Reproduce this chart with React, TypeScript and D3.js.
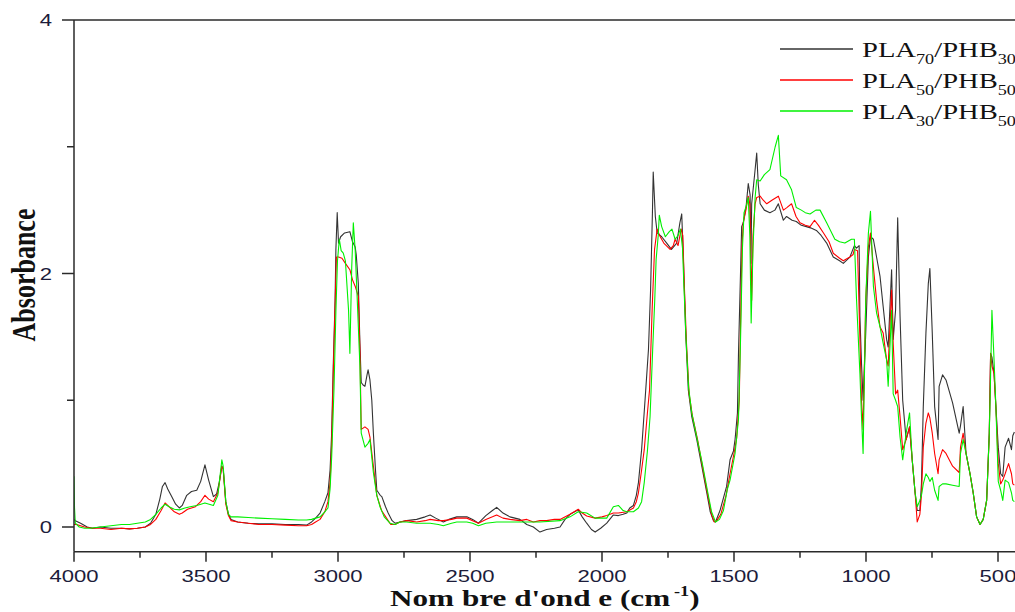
import React from "react";
import * as d3 from "d3";

// [wavenumber (cm-1), absorbance]
const seriesBlack: [number, number][] = [
  [4000, 0.06], [3995, 0.05], [3975, 0.03], [3950, 0.0], [3930, -0.01], [3900, 0.0], [3860, -0.01], [3820, -0.01],
  [3790, -0.015], [3760, -0.01], [3730, 0.0], [3710, 0.03], [3690, 0.1], [3675, 0.22], [3665, 0.32], [3655, 0.35],
  [3645, 0.3], [3630, 0.24], [3615, 0.18], [3601, 0.15], [3590, 0.17], [3573, 0.25], [3555, 0.28], [3535, 0.29],
  [3520, 0.36], [3504, 0.49], [3490, 0.37], [3472, 0.24], [3460, 0.26], [3450, 0.35], [3440, 0.48], [3435, 0.46],
  [3425, 0.2], [3415, 0.1], [3405, 0.06], [3380, 0.04], [3340, 0.03], [3300, 0.025], [3250, 0.025], [3200, 0.02],
  [3150, 0.02], [3119, 0.015], [3100, 0.04], [3085, 0.07], [3068, 0.11], [3050, 0.2], [3038, 0.27], [3030, 0.45],
  [3024, 0.74], [3018, 1.27], [3011, 1.79], [3008, 2.19], [3003, 2.48], [2998, 2.24], [2990, 2.29], [2975, 2.32],
  [2955, 2.33], [2945, 2.25], [2935, 2.21], [2931, 2.15], [2923, 1.92], [2917, 1.45], [2912, 1.14], [2905, 1.12],
  [2898, 1.11], [2890, 1.2], [2886, 1.24], [2879, 1.16], [2872, 1.0], [2866, 0.74], [2858, 0.45], [2853, 0.29],
  [2840, 0.25], [2834, 0.24], [2820, 0.16], [2810, 0.11], [2795, 0.05], [2784, 0.03], [2765, 0.04], [2740, 0.05],
  [2702, 0.06], [2670, 0.08], [2651, 0.095], [2630, 0.07], [2601, 0.04], [2580, 0.06], [2550, 0.08], [2512, 0.08],
  [2490, 0.06], [2468, 0.03], [2440, 0.09], [2415, 0.13], [2399, 0.155], [2375, 0.11], [2349, 0.08], [2311, 0.06],
  [2285, 0.02], [2260, 0.0], [2235, -0.04], [2210, -0.02], [2180, -0.01], [2159, 0.0], [2140, 0.06], [2121, 0.1],
  [2090, 0.135], [2075, 0.08], [2058, 0.03], [2040, -0.02], [2026, -0.04], [2005, -0.01], [1982, 0.03], [1957, 0.095],
  [1938, 0.09], [1920, 0.1], [1906, 0.11], [1895, 0.15], [1881, 0.17], [1870, 0.25], [1862, 0.35], [1850, 0.61],
  [1837, 1.0], [1824, 1.4], [1816, 1.87], [1809, 2.48], [1806, 2.8], [1798, 2.45], [1791, 2.32], [1774, 2.29],
  [1755, 2.24], [1737, 2.19], [1717, 2.24], [1705, 2.4], [1698, 2.47], [1692, 2.13], [1683, 1.53], [1673, 1.08],
  [1660, 0.87], [1641, 0.69], [1622, 0.48], [1603, 0.27], [1590, 0.12], [1578, 0.05], [1570, 0.04], [1553, 0.13],
  [1528, 0.32], [1515, 0.53], [1502, 0.6], [1496, 0.69], [1487, 0.9], [1483, 1.37], [1475, 2.03], [1471, 2.37],
  [1465, 2.4], [1454, 2.53], [1446, 2.71], [1439, 2.62], [1436, 2.08], [1433, 2.55], [1420, 2.82], [1414, 2.95],
  [1408, 2.7], [1401, 2.55], [1385, 2.5], [1364, 2.48], [1345, 2.5], [1332, 2.55], [1313, 2.42], [1301, 2.45],
  [1280, 2.42], [1264, 2.41], [1245, 2.38], [1226, 2.37], [1210, 2.36], [1188, 2.34], [1170, 2.3], [1149, 2.24],
  [1124, 2.13], [1100, 2.1], [1086, 2.08], [1061, 2.13], [1044, 2.22], [1036, 2.2], [1026, 2.22], [1023, 1.66],
  [1017, 1.29], [1011, 1.0], [1001, 1.53], [991, 2.13], [983, 2.29], [972, 2.27], [960, 2.13], [947, 1.98],
  [935, 1.74], [922, 1.48], [916, 1.42], [903, 2.03], [897, 1.48], [888, 1.71], [880, 2.44], [871, 1.66],
  [861, 1.0], [848, 0.69], [835, 0.79], [825, 0.53], [814, 0.27], [806, 0.13], [796, 0.13], [790, 0.34],
  [783, 0.95], [773, 1.53], [764, 1.92], [758, 2.04], [749, 1.53], [740, 0.95], [727, 0.69], [723, 1.11],
  [710, 1.2], [697, 1.16], [672, 0.98], [647, 0.74], [642, 0.8], [632, 0.95], [621, 0.58], [606, 0.42],
  [594, 0.27], [581, 0.08], [568, 0.02], [556, 0.06], [543, 0.21], [533, 0.74], [528, 1.37], [523, 1.34],
  [515, 1.21], [508, 0.95], [499, 0.63], [490, 0.42], [482, 0.4], [473, 0.63], [460, 0.7], [449, 0.61],
  [444, 0.72], [438, 0.75],
];

const seriesRed: [number, number][] = [
  [4000, 0.02], [3990, 0.02], [3960, 0.0], [3930, -0.01], [3900, -0.01], [3860, -0.02], [3820, -0.01], [3790, -0.015],
  [3760, -0.01], [3730, 0.0], [3710, 0.02], [3690, 0.06], [3670, 0.13], [3655, 0.19], [3640, 0.16], [3620, 0.12],
  [3601, 0.1], [3590, 0.11], [3570, 0.14], [3540, 0.16], [3520, 0.2], [3504, 0.25], [3490, 0.22], [3472, 0.2],
  [3455, 0.27], [3440, 0.48], [3435, 0.46], [3425, 0.18], [3415, 0.09], [3405, 0.05], [3380, 0.04], [3340, 0.03],
  [3300, 0.02], [3250, 0.02], [3200, 0.015], [3150, 0.01], [3119, 0.01], [3100, 0.02], [3085, 0.04], [3068, 0.06],
  [3050, 0.12], [3038, 0.2], [3030, 0.35], [3024, 0.65], [3018, 1.2], [3011, 1.75], [3006, 2.13], [2998, 2.13],
  [2985, 2.12], [2972, 2.08], [2955, 2.03], [2945, 1.95], [2935, 1.9], [2923, 1.82], [2917, 1.4], [2912, 0.77],
  [2898, 0.79], [2886, 0.77], [2879, 0.71], [2866, 0.48], [2853, 0.25], [2835, 0.13], [2810, 0.05], [2800, 0.02],
  [2784, 0.02], [2765, 0.04], [2740, 0.05], [2702, 0.04], [2670, 0.05], [2651, 0.06], [2620, 0.05], [2601, 0.05],
  [2570, 0.06], [2550, 0.07], [2512, 0.07], [2490, 0.05], [2468, 0.03], [2440, 0.06], [2415, 0.08], [2399, 0.095],
  [2375, 0.07], [2349, 0.06], [2311, 0.05], [2285, 0.06], [2260, 0.04], [2235, 0.05], [2210, 0.05], [2180, 0.06],
  [2159, 0.06], [2121, 0.1], [2090, 0.14], [2075, 0.11], [2058, 0.087], [2026, 0.07], [2000, 0.08], [1982, 0.09],
  [1957, 0.11], [1938, 0.11], [1906, 0.12], [1881, 0.15], [1870, 0.2], [1862, 0.27], [1850, 0.45], [1840, 0.61],
  [1828, 0.9], [1820, 1.08], [1810, 1.72], [1801, 2.19], [1791, 2.35], [1782, 2.3], [1766, 2.24], [1742, 2.19],
  [1730, 2.22], [1723, 2.27], [1712, 2.22], [1700, 2.35], [1694, 2.3], [1688, 1.9], [1680, 1.45], [1670, 1.05],
  [1657, 0.87], [1638, 0.69], [1618, 0.46], [1600, 0.26], [1585, 0.1], [1575, 0.04], [1565, 0.05], [1550, 0.1],
  [1530, 0.25], [1515, 0.42], [1500, 0.58], [1490, 0.7], [1480, 1.0], [1475, 1.63], [1470, 2.2], [1465, 2.4],
  [1455, 2.5], [1446, 2.61], [1440, 2.55], [1433, 1.79], [1428, 2.3], [1420, 2.55], [1414, 2.6], [1401, 2.61],
  [1390, 2.58], [1376, 2.55], [1355, 2.58], [1332, 2.61], [1313, 2.5], [1300, 2.52], [1282, 2.55], [1265, 2.45],
  [1250, 2.4], [1230, 2.38], [1212, 2.37], [1195, 2.42], [1180, 2.38], [1161, 2.32], [1140, 2.25], [1124, 2.16],
  [1100, 2.12], [1086, 2.1], [1061, 2.13], [1049, 2.15], [1044, 2.19], [1032, 2.18], [1023, 1.48], [1017, 1.0],
  [1011, 0.77], [1001, 1.79], [991, 2.21], [983, 2.32], [972, 2.05], [960, 1.79], [947, 1.58], [935, 1.53],
  [922, 1.32], [916, 1.27], [903, 1.87], [897, 1.45], [888, 1.05], [880, 1.08], [871, 0.87], [861, 0.61],
  [848, 0.69], [835, 0.79], [825, 0.53], [814, 0.27], [806, 0.04], [796, 0.1], [790, 0.25], [783, 0.63],
  [773, 0.82], [764, 0.9], [758, 0.86], [749, 0.74], [740, 0.58], [727, 0.42], [723, 0.53], [710, 0.61],
  [697, 0.58], [672, 0.48], [647, 0.43], [642, 0.63], [632, 0.74], [621, 0.58], [606, 0.42], [594, 0.27],
  [581, 0.08], [568, 0.02], [556, 0.06], [543, 0.21], [533, 0.74], [528, 1.37], [523, 1.27], [515, 1.21],
  [508, 0.95], [499, 0.5], [490, 0.34], [482, 0.37], [473, 0.42], [460, 0.5], [449, 0.42], [444, 0.34],
  [438, 0.33],
];

const seriesGreen: [number, number][] = [
  [4000, 0.4], [3998, 0.15], [3995, 0.03], [3980, 0.0], [3960, -0.01], [3940, -0.01], [3900, 0.0], [3860, 0.01],
  [3820, 0.02], [3790, 0.02], [3760, 0.03], [3730, 0.04], [3710, 0.06], [3690, 0.1], [3670, 0.15], [3655, 0.18],
  [3640, 0.16], [3620, 0.14], [3601, 0.135], [3580, 0.15], [3560, 0.16], [3535, 0.17], [3504, 0.19], [3472, 0.17],
  [3455, 0.25], [3440, 0.53], [3435, 0.48], [3425, 0.2], [3415, 0.1], [3405, 0.08], [3380, 0.08], [3340, 0.075],
  [3300, 0.07], [3250, 0.065], [3200, 0.06], [3150, 0.055], [3119, 0.055], [3100, 0.06], [3085, 0.07], [3068, 0.08],
  [3050, 0.12], [3038, 0.15], [3030, 0.3], [3024, 0.55], [3015, 1.1], [3008, 1.7], [3002, 2.1], [2995, 2.27],
  [2988, 2.18], [2980, 2.16], [2972, 2.1], [2960, 1.71], [2955, 1.37], [2948, 2.05], [2942, 2.4], [2935, 2.19],
  [2927, 1.79], [2917, 1.27], [2912, 0.74], [2898, 0.63], [2886, 0.66], [2879, 0.69], [2866, 0.43], [2853, 0.25],
  [2841, 0.16], [2825, 0.08], [2803, 0.03], [2784, 0.02], [2765, 0.04], [2740, 0.04], [2702, 0.03], [2670, 0.03],
  [2651, 0.03], [2620, 0.02], [2601, 0.01], [2570, 0.03], [2550, 0.04], [2512, 0.04], [2490, 0.03], [2468, 0.01],
  [2440, 0.03], [2399, 0.04], [2349, 0.04], [2311, 0.04], [2235, 0.04], [2159, 0.05], [2121, 0.08], [2090, 0.12],
  [2058, 0.11], [2026, 0.07], [1982, 0.07], [1957, 0.16], [1938, 0.17], [1920, 0.13], [1906, 0.12], [1881, 0.12],
  [1862, 0.15], [1850, 0.2], [1840, 0.35], [1828, 0.6], [1818, 0.87], [1808, 1.4], [1800, 1.8], [1795, 2.11],
  [1787, 2.3], [1783, 2.46], [1774, 2.37], [1760, 2.29], [1745, 2.33], [1735, 2.35], [1723, 2.27], [1712, 2.3],
  [1703, 2.35], [1695, 2.2], [1690, 1.92], [1682, 1.5], [1672, 1.1], [1660, 0.9], [1640, 0.7], [1620, 0.5],
  [1600, 0.28], [1585, 0.12], [1570, 0.04], [1555, 0.06], [1540, 0.13], [1525, 0.3], [1515, 0.37], [1496, 0.58],
  [1483, 0.85], [1475, 1.5], [1468, 2.2], [1462, 2.48], [1454, 2.53], [1446, 2.6], [1440, 2.3], [1435, 1.61],
  [1428, 2.2], [1420, 2.6], [1414, 2.74], [1401, 2.73], [1385, 2.78], [1364, 2.82], [1344, 3.0], [1332, 3.09],
  [1323, 2.77], [1301, 2.74], [1282, 2.66], [1264, 2.52], [1245, 2.5], [1230, 2.48], [1212, 2.47], [1190, 2.5],
  [1174, 2.5], [1149, 2.4], [1118, 2.27], [1100, 2.25], [1080, 2.24], [1055, 2.27], [1044, 2.27], [1036, 1.8],
  [1023, 1.21], [1017, 0.87], [1011, 0.58], [1001, 1.79], [991, 2.32], [983, 2.49], [972, 1.9], [960, 1.69],
  [947, 1.58], [935, 1.45], [922, 1.32], [916, 1.11], [903, 1.71], [897, 1.05], [888, 1.0], [880, 0.95],
  [871, 0.71], [861, 0.53], [848, 0.74], [835, 0.9], [825, 0.53], [814, 0.27], [806, 0.16], [796, 0.21],
  [790, 0.25], [783, 0.34], [773, 0.42], [764, 0.39], [758, 0.36], [749, 0.39], [740, 0.29], [727, 0.21],
  [723, 0.32], [710, 0.34], [697, 0.34], [672, 0.33], [647, 0.32], [642, 0.58], [632, 0.69], [621, 0.58],
  [606, 0.42], [594, 0.27], [581, 0.08], [568, 0.02], [556, 0.06], [543, 0.21], [533, 0.74], [528, 1.2],
  [523, 1.71], [515, 1.32], [508, 0.95], [499, 0.36], [490, 0.29], [482, 0.21], [473, 0.37], [460, 0.35],
  [449, 0.27], [444, 0.21], [438, 0.2],
];

const xMajorTicks = [4000, 3500, 3000, 2500, 2000, 1500, 1000, 500];
const xMinorTicks = [3750, 3250, 2750, 2250, 1750, 1250, 750];
const yMajorTicks = [0, 2, 4];
const yMinorTicks = [1, 3];

const legendLabels = [
  { main: "PLA", sub1: "70", mid: "/PHB", sub2: "30" },
  { main: "PLA", sub1: "50", mid: "/PHB", sub2: "50" },
  { main: "PLA", sub1: "30", mid: "/PHB", sub2: "50" },
];
const seriesColors = ["#333333", "#ff0000", "#00f000"];

export default function App() {
  const W = 1015;
  const H = 612;
  const x = d3.scaleLinear().domain([4000, 500]).range([74, 998]);
  const y = d3.scaleLinear().domain([0, 4]).range([527, 20]);
  const yBottom = y(-0.195);
  const xLeft = x(4000);

  const line = d3
    .line<[number, number]>()
    .x((d) => x(d[0]))
    .y((d) => y(d[1]));

  const allSeries = [seriesBlack, seriesRed, seriesGreen];
  const axisColor = "#2a2a2a";
  const labelColor = "#1c1c3a";
  const SX = 1.3;

  return (
    <svg
      width={W}
      height={H}
      style={{ position: "fixed", left: 0, top: 0, background: "#fff" }}
    >
      <rect x={0} y={0} width={W} height={H} fill="#fff" />
      <defs>
        <clipPath id="plotClip">
          <rect x={xLeft} y={y(4)} width={W - xLeft} height={yBottom - y(4)} />
        </clipPath>
      </defs>

      {/* series */}
      <g clipPath="url(#plotClip)">
        {allSeries.map((s, i) => (
          <path
            key={i}
            d={line(s) || ""}
            fill="none"
            stroke={seriesColors[i]}
            strokeWidth={1.1}
            strokeLinejoin="round"
          />
        ))}
      </g>

      {/* frame */}
      <line x1={xLeft} x2={W} y1={y(4)} y2={y(4)} stroke={axisColor} strokeWidth={1.5} />
      <line x1={xLeft} x2={W} y1={yBottom} y2={yBottom} stroke={axisColor} strokeWidth={1.5} />
      <line x1={xLeft} x2={xLeft} y1={y(4)} y2={yBottom} stroke={axisColor} strokeWidth={1.5} />

      {/* x ticks */}
      {xMajorTicks.map((t) => (
        <g key={"xM" + t}>
          <line x1={x(t)} x2={x(t)} y1={yBottom} y2={yBottom + 10} stroke={axisColor} strokeWidth={1.5} />
          <text
            transform={`translate(${x(t)},${yBottom + 30}) scale(${SX},1)`}
            textAnchor="middle"
            fontFamily="'Liberation Sans', Arial, sans-serif"
            fontSize={17}
            fill={labelColor}
          >
            {t}
          </text>
        </g>
      ))}
      {xMinorTicks.map((t) => (
        <line key={"xm" + t} x1={x(t)} x2={x(t)} y1={yBottom} y2={yBottom + 6} stroke={axisColor} strokeWidth={1.5} />
      ))}

      {/* y ticks */}
      {yMajorTicks.map((t) => (
        <g key={"yM" + t}>
          <line x1={xLeft - 12} x2={xLeft} y1={y(t)} y2={y(t)} stroke={axisColor} strokeWidth={1.5} />
          <text
            transform={`translate(${xLeft - 22},${y(t) + 6}) scale(${SX},1)`}
            textAnchor="end"
            fontFamily="'Liberation Sans', Arial, sans-serif"
            fontSize={17}
            fill={labelColor}
          >
            {t}
          </text>
        </g>
      ))}
      {yMinorTicks.map((t) => (
        <line key={"ym" + t} x1={xLeft - 7} x2={xLeft} y1={y(t)} y2={y(t)} stroke={axisColor} strokeWidth={1.5} />
      ))}

      {/* axis titles */}
      <text
        transform={`translate(390,606) scale(${SX},1)`}
        fontFamily="'Liberation Serif', 'Times New Roman', serif"
        fontWeight="bold"
        fontSize={24}
        fill="#111"
      >
        {"Nom bre d'ond e (cm"}
        <tspan dx={3} dy={-10} fontSize={14}>-1</tspan>
        <tspan dy={10}>)</tspan>
      </text>
      <text
        transform={`translate(35,275) scale(${SX},1) rotate(-90)`}
        textAnchor="middle"
        fontFamily="'Liberation Serif', 'Times New Roman', serif"
        fontWeight="bold"
        fontSize={26}
        fill="#111"
      >
        Absorbance
      </text>

      {/* legend */}
      {legendLabels.map((l, i) => {
        const ly = 49 + i * 31;
        return (
          <g key={"lg" + i}>
            <line x1={780} x2={853} y1={ly} y2={ly} stroke={seriesColors[i]} strokeWidth={1.3} />
            <text
              transform={`translate(862,${ly + 8}) scale(${SX},1)`}
              fontFamily="'Liberation Serif', 'Times New Roman', serif"
              fontSize={22}
              fill="#111"
            >
              {l.main}
              <tspan dy={7} fontSize={14}>{l.sub1}</tspan>
              <tspan dy={-7}>{l.mid}</tspan>
              <tspan dy={7} fontSize={14}>{l.sub2}</tspan>
            </text>
          </g>
        );
      })}
    </svg>
  );
}
